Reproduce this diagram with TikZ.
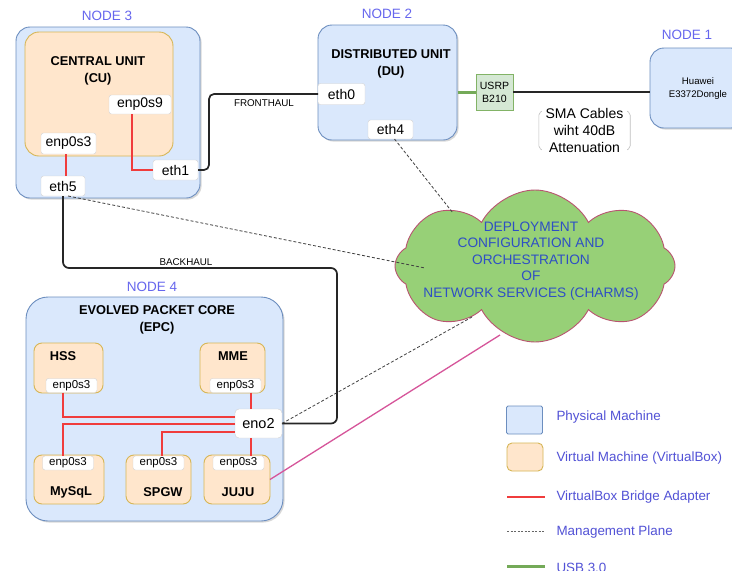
\documentclass[tikz,border=0pt]{standalone}
\usepackage{fontspec}
\setmainfont{Liberation Sans}
\usetikzlibrary{shapes.symbols,shadows,calc}

\definecolor{physF}{HTML}{DAE8FC}
\definecolor{physD}{HTML}{6C8EBF}
\definecolor{vmF}{HTML}{FFE6CC}
\definecolor{vmD}{HTML}{D6B656}
\definecolor{usbF}{HTML}{D5E8D4}
\definecolor{usbD}{HTML}{82B366}
\definecolor{usbL}{HTML}{74AA58}
\definecolor{bridgeC}{HTML}{F03C3C}
\definecolor{cloudF}{HTML}{97D077}
\definecolor{cloudD}{HTML}{B85470}
\definecolor{charmC}{HTML}{D6559A}
\definecolor{nodeT}{HTML}{6666EE}
\definecolor{legT}{HTML}{5252D6}
\definecolor{cloudT}{HTML}{2E4FC4}

\newcommand{\fsz}[2]{\fontsize{#1}{#2}\selectfont}

\tikzset{
  phys/.style={draw=physD, fill=physF, line width=0.9pt, rounded corners=14pt,
    inner sep=0pt, outer sep=0pt,
    drop shadow={opacity=0.3, shadow xshift=1.6pt, shadow yshift=-1.6pt}},
  vm/.style={draw=vmD, fill=vmF, line width=0.9pt, rounded corners=8pt,
    inner sep=0pt, outer sep=0pt},
  port/.style={draw=black!18, fill=white, rounded corners=2.5pt,
    inner sep=0pt, outer sep=0pt, font=\fsz{14}{14}},
  sport/.style={port, font=\fsz{11.5}{12}, minimum width=51pt, minimum height=14pt},
  title/.style={font=\bfseries\fsz{12.8}{17}, align=center},
  vmtitle/.style={font=\bfseries\fsz{12.8}{14}},
  nodelbl/.style={text=nodeT, font=\fsz{13.5}{14}},
  linklbl/.style={font=\fsz{9.8}{10}},
  wire/.style={draw=black!85, line width=1.7pt},
  bridge/.style={draw=bridgeC, line width=2pt},
  usb/.style={draw=usbL, line width=3pt},
  mgmt/.style={draw=black!75, line width=0.8pt, dash pattern=on 3pt off 2pt},
  charm/.style={draw=charmC, line width=1.3pt},
  legtext/.style={text=legT, font=\fsz{13.4}{14}, anchor=west},
}

\begin{document}
\begin{tikzpicture}[x=1pt, y=-1pt]
\useasboundingbox[fill=white] (0,0) rectangle (732,571);

% ---------------- NODE 3 : central unit ----------------
\node[nodelbl] (n3lbl) at (107,16) {NODE 3};
\node[phys, minimum width=184pt, minimum height=171pt] (n3) at (108,112.5) {};
\node[vm, rounded corners=14pt, minimum width=148pt, minimum height=124pt] (cu) at (99,94) {};
\node[title] (cutitle) at (98,70.5) {CENTRAL UNIT\\(CU)};
\node[port, minimum width=62pt, minimum height=19pt] (enp9) at (140,104.5) {enp0s9};
\node[port, minimum width=55pt, minimum height=21pt] (cu3) at (68.5,143.5) {enp0s3};
\node[port, minimum width=44pt, minimum height=20pt] (eth5) at (63,186) {eth5};
\node[port, minimum width=45pt, minimum height=20pt] (eth1) at (175.5,170) {eth1};

% bridge adapters of the CU virtual machine
\coordinate (cuA) at (66,154);
\coordinate (cuB) at (66,176);
\draw[bridge] (cuA) -- (cuB);
\coordinate (cuxb) at (132,0);
\draw[bridge] (cuxb |- enp9.south) |- (eth1.west);

% ---------------- NODE 2 : distributed unit ----------------
\node[nodelbl] (n2lbl) at (387,14) {NODE 2};
\node[phys, minimum width=139pt, minimum height=115pt] (n2) at (387.5,82.5) {};
\node[title] (dutitle) at (391,63.5) {DISTRIBUTED UNIT\\(DU)};
\node[port, minimum width=47pt, minimum height=21pt] (eth0) at (341.5,94) {eth0};
\node[port, minimum width=45pt, minimum height=19pt] (eth4) at (390.5,129.5) {eth4};
\node[draw=usbD, fill=usbF, line width=0.9pt, minimum width=37pt, minimum height=36pt,
      inner sep=0pt, outer sep=0pt, align=center, font=\fsz{10.5}{13}] (usrp) at (494.5,92) {USRP\\B210};

% ---------------- NODE 1 : dongle ----------------
\node[nodelbl] (n1lbl) at (687,35) {NODE 1};
\node[phys, minimum width=95pt, minimum height=80pt] (n1) at (697.5,88) {};
\node[align=center, font=\fsz{9.6}{13}] (dongle) at (698,88.5) {Huawei\\E3372Dongle};

% fronthaul, USB and RF links
\coordinate (xf) at (209,0);
\draw[wire, rounded corners=5pt] (eth1.east) -- (eth1.east -| xf) -- (eth0.west -| xf) -- (eth0.west);
\node[linklbl] (fhlbl) at (264,103) {FRONTHAUL};
\coordinate (usbA) at (457.5,92.5);
\draw[usb] (usbA) -- (usbA -| usrp.west);
\draw[wire] (usrp.east) -- (usrp.east -| n1.west);
\node[align=center, font=\fsz{14}{17}, minimum width=91pt, inner sep=0pt] (sma) at (584.5,130.5)
  {SMA Cables\\wiht 40dB\\Attenuation};
\draw[black!25, line width=0.6pt, rounded corners=2pt]
  ([xshift=3pt,yshift=-3pt]sma.north west) -- ([yshift=-5pt]sma.north west)
  -- ([yshift=5pt]sma.south west) -- ([xshift=3pt,yshift=3pt]sma.south west);
\draw[black!25, line width=0.6pt, rounded corners=2pt]
  ([xshift=-3pt,yshift=-3pt]sma.north east) -- ([yshift=-5pt]sma.north east)
  -- ([yshift=5pt]sma.south east) -- ([xshift=-3pt,yshift=3pt]sma.south east);

% ---------------- NODE 4 : evolved packet core ----------------
\node[nodelbl] (n4lbl) at (152,287) {NODE 4};
\node[phys, rounded corners=22pt, minimum width=257pt, minimum height=224pt] (n4) at (154.5,409) {};
\node[title] (epctitle) at (157,319.5) {EVOLVED PACKET CORE\\(EPC)};

\node[vm, minimum width=69pt, minimum height=50pt] (hss) at (68.5,368) {};
\node[vmtitle] (hsst) at (63,356) {HSS};
\node[sport] (hssp) at (71.5,385.5) {enp0s3};

\node[vm, minimum width=65pt, minimum height=50pt] (mme) at (232.5,368) {};
\node[vmtitle] (mmet) at (233,356) {MME};
\node[sport] (mmep) at (235.5,385.5) {enp0s3};

\node[vm, minimum width=70pt, minimum height=49pt] (mysql) at (69,479.5) {};
\node[sport] (mysqlp) at (68,463) {enp0s3};
\node[vmtitle] (mysqlt) at (71,492) {MySqL};

\node[vm, minimum width=65pt, minimum height=49pt] (spgw) at (158.5,479.5) {};
\node[sport] (spgwp) at (158.5,463) {enp0s3};
\node[vmtitle] (spgwt) at (163,492) {SPGW};

\node[vm, minimum width=66pt, minimum height=49pt] (juju) at (237,479.5) {};
\node[sport] (jujup) at (238.5,463) {enp0s3};
\node[vmtitle] (jujut) at (238,492) {JUJU};

\node[port, rounded corners=4pt, minimum width=47pt, minimum height=29pt, font=\fsz{14.5}{15}] (eno2) at (258.5,423.5) {eno2};

\coordinate (xh) at (63,0);
\coordinate (xs) at (162,0);
\coordinate (xj) at (251,0);
\draw[bridge] (hssp.south -| xh) |- ([yshift=6.5pt]eno2.west);
\draw[bridge] ([yshift=-0.5pt]eno2.west) -| (mysqlp.north -| xh);
\draw[bridge] ([yshift=-8.5pt]eno2.west) -| (spgwp.north -| xs);
\draw[bridge] (mmep.south -| xj) -- (eno2.north -| xj);
\draw[bridge] (eno2.south -| xj) -- (jujup.north -| xj);

% backhaul
\coordinate (yb) at (0,268);
\coordinate (xbh) at (337,0);
\draw[wire, rounded corners=6pt] (eth5.south) -- (eth5.south |- yb) -- (xbh |- yb)
  -- (xbh |- eno2.east) -- (eno2.east);
\node[linklbl] (bhlbl) at (186,262) {BACKHAUL};

% ---------------- orchestration cloud ----------------
\node[cloud, cloud puffs=8, cloud puff arc=125, cloud ignores aspect,
      draw=cloudD, fill=cloudF, line width=0.9pt,
      minimum width=280pt, minimum height=152pt] (cloud) at (535,266) {};
\node[align=center, text=cloudT, font=\fsz{13.7}{16.5}] (ctext) at (531,261)
  {DEPLOYMENT\\CONFIGURATION AND\\ORCHESTRATION\\OF\\NETWORK SERVICES (CHARMS)};

\coordinate (ma) at (453,213);
\coordinate (mb) at (425,268);
\coordinate (mc) at (472,317);
\coordinate (md) at (500,335);
\draw[mgmt] ([xshift=4pt]eth4.south) -- (ma);
\draw[mgmt] ([xshift=5pt]eth5.south) -- (mb);
\draw[mgmt] (eno2.east) -- (mc);
\draw[charm] (juju.east) -- (md);

% ---------------- legend ----------------
\node[draw=physD, fill=physF, line width=0.9pt, minimum width=36pt, minimum height=28pt,
      inner sep=0pt, rounded corners=1.5pt] (lg1) at (524.5,420) {};
\node[vm, rounded corners=5pt, minimum width=36pt, minimum height=28pt] (lg2) at (525,457) {};
\coordinate (lg3a) at (507,497); \coordinate (lg3b) at (545,497);
\coordinate (lg4a) at (507,531); \coordinate (lg4b) at (545,531);
\coordinate (lg5a) at (507,566.5); \coordinate (lg5b) at (545,566.5);
\draw[bridge] (lg3a) -- (lg3b);
\draw[draw=black!60, line width=0.8pt, dash pattern=on 2pt off 1.5pt] (lg4a) -- (lg4b);
\draw[usb] (lg5a) -- (lg5b);
\node[legtext] (lt1) at (553,417) {Physical Machine};
\node[legtext] (lt2) at (553,458) {Virtual Machine (VirtualBox)};
\node[legtext] (lt3) at (553,497) {VirtualBox Bridge Adapter};
\node[legtext] (lt4) at (553,532) {Management Plane};
\node[legtext] (lt5) at (553,568) {USB 3.0};
\end{tikzpicture}
\end{document}
